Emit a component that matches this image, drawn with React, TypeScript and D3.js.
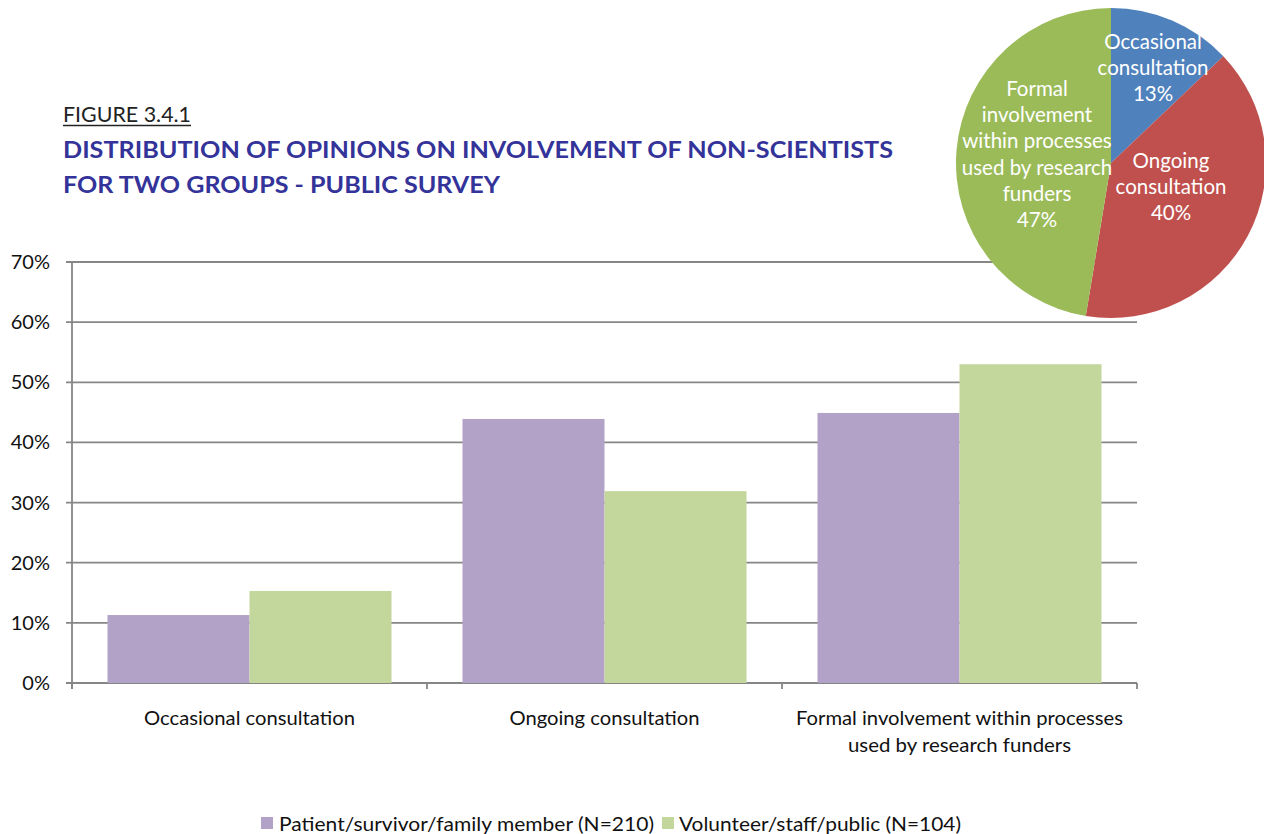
import React from "react";
import * as d3 from "d3";

const categories = ["Occasional consultation", "Ongoing consultation", "Formal involvement within processes used by research funders"];
const categoryLines = [["Occasional consultation"], ["Ongoing consultation"], ["Formal involvement within processes", "used by research funders"]];
const categoryLineWidths = [[211], [190], [327, 223]];
const seriesNames = ["Patient/survivor/family member (N=210)", "Volunteer/staff/public (N=104)"];
const patientValues = [11.3, 43.9, 44.9];
const volunteerValues = [15.3, 31.9, 53.0];
const yTicks = [0, 10, 20, 30, 40, 50, 60, 70];

const pieCategories = ["Occasional consultation", "Ongoing consultation", "Formal involvement within processes used by research funders"];
const pieValues = [12.9, 39.7, 47.4];
const pieLabelLines = [
  ["Occasional", "consultation", "13%"],
  ["Ongoing", "consultation", "40%"],
  ["Formal", "involvement", "within processes", "used by research", "funders", "47%"],
];

const barColors = ["#B3A2C7", "#C3D69B"];
const pieColors = ["#4F81BD", "#C0504D", "#9BBB59"];
const FONT = "Lato, 'Open Sans', sans-serif";

export default function App() {
  const W = 1264, H = 834;
  const left = 72, right = 1137, top = 262, bottom = 683;
  const x = d3.scaleBand<string>().domain(categories).range([left, right]).paddingInner(0).paddingOuter(0);
  const inner = d3.scaleBand<number>().domain([0, 1]).range([0, x.bandwidth()]).paddingOuter(0.25).paddingInner(0);
  const y = d3.scaleLinear().domain([0, 70]).range([bottom, top]);
  const series = [patientValues, volunteerValues];

  const pieCx = 1111, pieCy = 163, pieR = 155;
  const arcs = d3.pie<number>().sort(null).startAngle(0).endAngle(2 * Math.PI)(pieValues);
  const arcGen = d3.arc<d3.PieArcDatum<number>>().innerRadius(0).outerRadius(pieR);
  const labelPos = [
    [1153, 42],
    [1171, 161],
    [1037, 89],
  ];

  const catTicks = [left, ...categories.map((c) => (x(c) as number) + x.bandwidth())];

  return (
    <svg width={W} height={H} style={{ position: "absolute", left: 0, top: 0, background: "#fff" }} fontFamily={FONT}>
      {/* titles */}
      <text x={63} y={122} fontSize={21} fill="#222" textLength={128} lengthAdjust="spacingAndGlyphs">FIGURE 3.4.1</text>
      <line x1={63} x2={191} y1={125.5} y2={125.5} stroke="#222" strokeWidth={1.3} />
      <text x={63} y={158} fontSize={22.5} fontWeight="bold" fill="#333399" textLength={830} lengthAdjust="spacingAndGlyphs">DISTRIBUTION OF OPINIONS ON INVOLVEMENT OF NON-SCIENTISTS</text>
      <text x={63} y={193} fontSize={22.5} fontWeight="bold" fill="#333399" textLength={437} lengthAdjust="spacingAndGlyphs">FOR TWO GROUPS - PUBLIC SURVEY</text>

      {/* gridlines */}
      {yTicks.map((t) => (
        <g key={t}>
          <line x1={left - 6} x2={right} y1={y(t)} y2={y(t)} stroke="#868686" strokeWidth={1.8} />
          <text x={50} y={y(t) + 7} fontSize={20} textAnchor="end" fill="#111">{t}%</text>
        </g>
      ))}
      <line x1={left} x2={left} y1={top} y2={bottom + 6} stroke="#868686" strokeWidth={1.8} />
      {catTicks.map((cx, i) => (
        <line key={i} x1={cx} x2={cx} y1={bottom} y2={bottom + 6} stroke="#868686" strokeWidth={1.8} />
      ))}

      {/* bars */}
      {categories.map((c, ci) => (
        <g key={c}>
          {series.map((vals, si) => (
            <rect key={si} x={(x(c) as number) + (inner(si) as number)} y={y(vals[ci])} width={inner.bandwidth()} height={y(0) - y(vals[ci])} fill={barColors[si]} />
          ))}
        </g>
      ))}

      {/* category labels */}
      {categories.map((c, ci) =>
        categoryLines[ci].map((ln, li) => (
          <text key={c + li} x={(x(c) as number) + x.bandwidth() / 2} y={725 + li * 27} fontSize={20} textAnchor="middle" fill="#111"
            textLength={categoryLineWidths[ci][li]} lengthAdjust="spacingAndGlyphs">{ln}</text>
        ))
      )}

      {/* legend */}
      <rect x={261} y={817} width={12} height={12} fill={barColors[0]} />
      <text x={279} y={831} fontSize={20} fill="#111" textLength={375} lengthAdjust="spacingAndGlyphs">{seriesNames[0]}</text>
      <rect x={662} y={817} width={12} height={12} fill={barColors[1]} />
      <text x={679} y={831} fontSize={20} fill="#111" textLength={282} lengthAdjust="spacingAndGlyphs">{seriesNames[1]}</text>

      {/* pie */}
      <g transform={`translate(${pieCx},${pieCy})`}>
        {arcs.map((a, i) => (
          <path key={pieCategories[i]} d={arcGen(a) as string} fill={pieColors[i]} />
        ))}
      </g>
      {pieLabelLines.map((lines, i) => (
        <text key={i} x={labelPos[i][0]} y={labelPos[i][1] + 7} fontSize={20.5} fill="#fff" textAnchor="middle">
          {lines.map((ln, li) => (
            <tspan key={li} x={labelPos[i][0]} dy={li === 0 ? 0 : 26.2}>{ln}</tspan>
          ))}
        </text>
      ))}
    </svg>
  );
}
